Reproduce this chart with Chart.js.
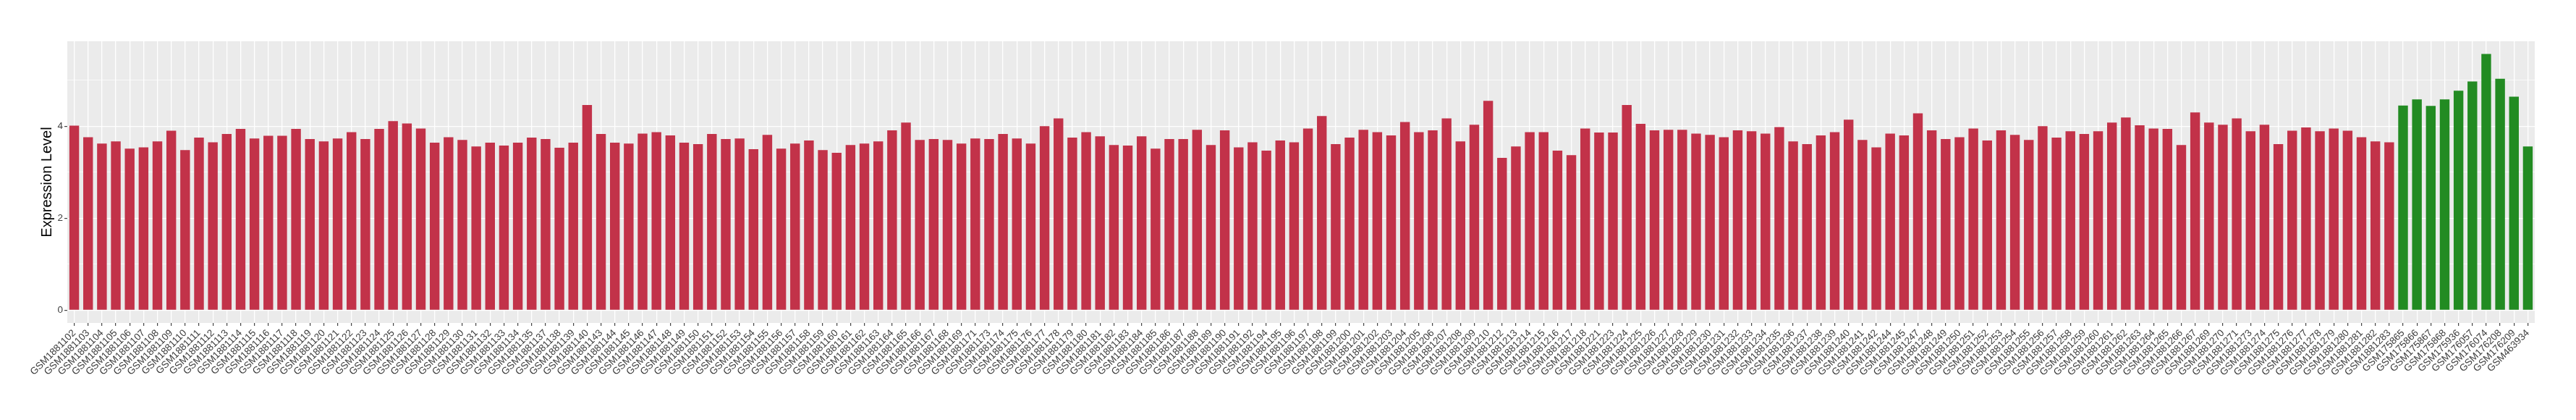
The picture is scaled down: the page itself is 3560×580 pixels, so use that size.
<!DOCTYPE html>
<html>
<head>
<meta charset="utf-8">
<script src="https://cdn.jsdelivr.net/npm/chart.js@4.4.1/dist/chart.umd.min.js"></script>
<style>
  html, body { margin: 0; padding: 0; background: #ffffff; }
  #wrap { width: 3560px; height: 580px; }
</style>
</head>
<body>
<div id="wrap"><canvas id="c" width="3560" height="580"></canvas></div>
<script>
// ---- data ----
const groupASamples = [
  "GSM1881102","GSM1881103","GSM1881104","GSM1881105","GSM1881106","GSM1881107","GSM1881108","GSM1881109","GSM1881110","GSM1881111",
  "GSM1881112","GSM1881113","GSM1881114","GSM1881115","GSM1881116","GSM1881117","GSM1881118","GSM1881119","GSM1881120","GSM1881121",
  "GSM1881122","GSM1881123","GSM1881124","GSM1881125","GSM1881126","GSM1881127","GSM1881128","GSM1881129","GSM1881130","GSM1881131",
  "GSM1881132","GSM1881133","GSM1881134","GSM1881135","GSM1881137","GSM1881138","GSM1881139","GSM1881140","GSM1881143","GSM1881144",
  "GSM1881145","GSM1881146","GSM1881147","GSM1881148","GSM1881149","GSM1881150","GSM1881151","GSM1881152","GSM1881153","GSM1881154",
  "GSM1881155","GSM1881156","GSM1881157","GSM1881158","GSM1881159","GSM1881160","GSM1881161","GSM1881162","GSM1881163","GSM1881164",
  "GSM1881165","GSM1881166","GSM1881167","GSM1881168","GSM1881169","GSM1881171","GSM1881173","GSM1881174","GSM1881175","GSM1881176",
  "GSM1881177","GSM1881178","GSM1881179","GSM1881180","GSM1881181","GSM1881182","GSM1881183","GSM1881184","GSM1881185","GSM1881186",
  "GSM1881187","GSM1881188","GSM1881189","GSM1881190","GSM1881191","GSM1881192","GSM1881194","GSM1881195","GSM1881196","GSM1881197",
  "GSM1881198","GSM1881199","GSM1881200","GSM1881201","GSM1881202","GSM1881203","GSM1881204","GSM1881205","GSM1881206","GSM1881207",
  "GSM1881208","GSM1881209","GSM1881210","GSM1881212","GSM1881213","GSM1881214","GSM1881215","GSM1881216","GSM1881217","GSM1881218",
  "GSM1881221","GSM1881223","GSM1881224","GSM1881225","GSM1881226","GSM1881227","GSM1881228","GSM1881229","GSM1881230","GSM1881231",
  "GSM1881232","GSM1881233","GSM1881234","GSM1881235","GSM1881236","GSM1881237","GSM1881238","GSM1881239","GSM1881240","GSM1881241",
  "GSM1881242","GSM1881244","GSM1881245","GSM1881247","GSM1881248","GSM1881249","GSM1881250","GSM1881251","GSM1881252","GSM1881253",
  "GSM1881254","GSM1881255","GSM1881256","GSM1881257","GSM1881258","GSM1881259","GSM1881260","GSM1881261","GSM1881262","GSM1881263",
  "GSM1881264","GSM1881265","GSM1881266","GSM1881267","GSM1881269","GSM1881270","GSM1881271","GSM1881273","GSM1881274","GSM1881275",
  "GSM1881276","GSM1881277","GSM1881278","GSM1881279","GSM1881280","GSM1881281","GSM1881282","GSM1881283"
];
const groupAValues = [
  4.01,3.76,3.62,3.67,3.51,3.54,3.67,3.90,3.48,3.75,
  3.65,3.83,3.94,3.73,3.79,3.79,3.94,3.72,3.67,3.73,
  3.87,3.72,3.94,4.11,4.06,3.95,3.64,3.76,3.70,3.56,
  3.64,3.58,3.64,3.75,3.72,3.53,3.64,4.46,3.83,3.64,
  3.62,3.84,3.87,3.80,3.64,3.61,3.83,3.72,3.73,3.50,
  3.81,3.51,3.62,3.69,3.48,3.42,3.59,3.62,3.67,3.91,
  4.08,3.70,3.72,3.70,3.62,3.73,3.72,3.83,3.73,3.62,
  4.00,4.17,3.75,3.87,3.78,3.59,3.58,3.78,3.51,3.72,
  3.72,3.92,3.59,3.91,3.54,3.65,3.47,3.69,3.65,3.95,
  4.22,3.61,3.75,3.92,3.87,3.80,4.09,3.87,3.91,4.17,
  3.67,4.03,4.55,3.31,3.56,3.87,3.87,3.47,3.37,3.95,
  3.86,3.86,4.46,4.05,3.91,3.92,3.92,3.84,3.81,3.76,
  3.91,3.89,3.84,3.98,3.67,3.61,3.80,3.87,4.14,3.70,
  3.54,3.84,3.80,4.28,3.91,3.72,3.76,3.95,3.69,3.91,
  3.81,3.70,4.00,3.75,3.89,3.83,3.89,4.08,4.19,4.02,
  3.95,3.94,3.59,4.30,4.08,4.03,4.17,3.89,4.03,3.61,
  3.90,3.97,3.89,3.95,3.90,3.76,3.67,3.65
];
const groupBSamples = [
  "GSM175865","GSM175866","GSM175867","GSM175868","GSM175936",
  "GSM176057","GSM176074","GSM176208","GSM176209","GSM463934"
];
const groupBValues = [4.45,4.58,4.44,4.58,4.77,4.97,5.57,5.03,4.64,3.56];
const yTickValues = [0, 2, 4];
const yAxisTitle = "Expression Level";

// ---- build chart ----
const categories = groupASamples.concat(groupBSamples);
const values = groupAValues.concat(groupBValues);
const colorA = "#C23249";
const colorB = "#228B22";
const barColors = categories.map((_, i) => i < groupASamples.length ? colorA : colorB);

const panelBg = {
  id: "panelBg",
  beforeDraw(chart) {
    const { ctx, chartArea } = chart;
    ctx.save();
    ctx.fillStyle = "#ffffff";
    ctx.fillRect(0, 0, chart.width, chart.height);
    ctx.fillStyle = "#EBEBEB";
    ctx.fillRect(chartArea.left, chartArea.top, chartArea.right - chartArea.left, chartArea.bottom - chartArea.top);
    ctx.restore();
  }
};

const FONT = "'Liberation Sans', Arial, Helvetica, sans-serif";
const isMajor = v => yTickValues.includes(v);

new Chart(document.getElementById("c"), {
  type: "bar",
  data: {
    labels: categories,
    datasets: [{
      data: values,
      backgroundColor: barColors,
      borderWidth: 0,
      barPercentage: 0.7,
      categoryPercentage: 1.0
    }]
  },
  options: {
    responsive: false,
    animation: false,
    devicePixelRatio: 1,
    layout: { padding: { left: 0, right: 57, top: 57, bottom: 0 } },
    plugins: { legend: { display: false }, tooltip: { enabled: false } },
    scales: {
      x: {
        type: "category",
        offset: true,
        border: { display: false },
        grid: {
          offset: false,
          color: "#ffffff",
          lineWidth: 1.3,
          tickColor: "#333333",
          tickLength: 4,
          tickWidth: 1.1
        },
        ticks: {
          autoSkip: false,
          maxRotation: 45,
          minRotation: 45,
          padding: 2,
          color: "#3d3d3d",
          font: { family: FONT, size: 13.5 }
        },
        afterFit(scale) { scale.height = 134; }
      },
      y: {
        min: -0.278,
        max: 5.845,
        border: { display: false },
        grid: {
          color: "#ffffff",
          lineWidth: c => (c.tick && isMajor(c.tick.value)) ? 1.3 : 0.65,
          tickColor: c => (c.tick && isMajor(c.tick.value)) ? "#333333" : "rgba(0,0,0,0)",
          tickLength: 4,
          tickWidth: 1.1
        },
        ticks: {
          stepSize: 1,
          includeBounds: false,
          padding: 2,
          color: "#3d3d3d",
          font: { family: FONT, size: 13.5 },
          callback: v => isMajor(v) ? String(v) : ""
        },
        title: {
          display: true,
          text: yAxisTitle,
          color: "#000000",
          font: { family: FONT, size: 20 },
          padding: { top: 53, bottom: 0 }
        },
        afterFit(scale) { scale.width = 93; }
      }
    }
  },
  plugins: [panelBg]
});
</script>
</body>
</html>
